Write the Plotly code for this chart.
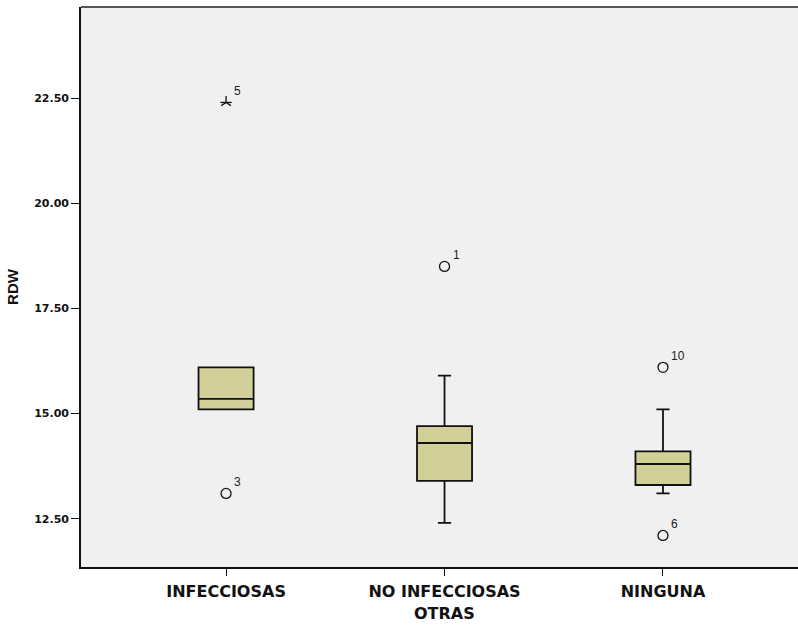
import plotly.graph_objects as go

# Groups on the x axis
categories = ["INFECCIOSAS", "NO INFECCIOSAS", "NINGUNA"]

# Box summaries of RDW per group
q1 = [15.10, 13.40, 13.30]
median = [15.35, 14.30, 13.80]
q3 = [16.10, 14.70, 14.10]
lower_whisker = [15.10, 12.40, 13.10]
upper_whisker = [16.10, 15.90, 15.10]

# Outlying cases (circles) and extreme cases (stars), with case numbers
outlier_groups = ["INFECCIOSAS", "NO INFECCIOSAS", "NINGUNA", "NINGUNA"]
outlier_values = [13.10, 18.50, 16.10, 12.10]
outlier_cases = ["3", "1", "10", "6"]

extreme_groups = ["INFECCIOSAS"]
extreme_values = [22.40]
extreme_cases = ["5"]

y_ticks = [12.5, 15.0, 17.5, 20.0, 22.5]

BOX_FILL = "#D3CF99"
PLOT_BG = "#F0F0F0"
FONT = "DejaVu Sans"
LABEL_FONT = "Liberation Sans"

fig = go.Figure()

for i, cat in enumerate(categories):
    fig.add_trace(go.Box(
        x=[cat],
        q1=[q1[i]], median=[median[i]], q3=[q3[i]],
        lowerfence=[lower_whisker[i]], upperfence=[upper_whisker[i]],
        boxpoints=False,
        fillcolor=BOX_FILL,
        line=dict(color="#111111", width=1.8),
        width=0.252,
        whiskerwidth=0.24,
        showlegend=False,
        hoverinfo="skip",
    ))

# Outliers: open circles
fig.add_trace(go.Scatter(
    x=outlier_groups, y=outlier_values, mode="markers",
    marker=dict(symbol="circle-open", size=10, color="#111111",
                line=dict(width=1.3, color="#111111")),
    showlegend=False, hoverinfo="skip",
))

# Extremes: five-armed asterisk built from two line symbols
for sym in ["y-up-open", "line-ew-open"]:
    fig.add_trace(go.Scatter(
        x=extreme_groups, y=extreme_values, mode="markers",
        marker=dict(symbol=sym, size=8, color="#111111",
                    line=dict(width=1.3, color="#111111")),
        showlegend=False, hoverinfo="skip",
    ))

# Case number labels next to each point
for g, v, c in list(zip(outlier_groups, outlier_values, outlier_cases)) + \
        list(zip(extreme_groups, extreme_values, extreme_cases)):
    fig.add_annotation(
        x=g, y=v, text=c, showarrow=False,
        xanchor="left", yanchor="middle", xshift=6, yshift=11,
        font=dict(family=LABEL_FONT, size=12, color="#222222"),
    )

# Group axis title, centred under the middle group
fig.add_annotation(
    x="NO INFECCIOSAS", xref="x", y=0, yref="paper",
    text="<b>OTRAS</b>", showarrow=False,
    xanchor="center", yanchor="middle", yshift=-46,
    font=dict(family=FONT, size=16, color="#111111"),
)

# Top frame line of the plot area
fig.add_shape(type="line", xref="paper", yref="paper",
              x0=0, x1=1, y0=1, y1=1,
              line=dict(color="#555555", width=2))

fig.update_layout(
    width=798, height=625,
    margin=dict(l=81, r=0, t=7, b=58, autoexpand=False),
    paper_bgcolor="white",
    plot_bgcolor=PLOT_BG,
    font=dict(family=FONT, color="#111111"),
)

fig.update_xaxes(
    type="category",
    categoryorder="array", categoryarray=categories,
    range=[-0.664, 2.618],
    automargin=False,
    showgrid=False, zeroline=False,
    showline=True, linecolor="#111111", linewidth=2,
    ticks="outside", ticklen=7, tickwidth=1.2, tickcolor="#111111",
    ticklabelstandoff=2,
    tickfont=dict(family=FONT, size=16, color="#111111", weight="bold"),
)

fig.update_yaxes(
    range=[11.35, 24.67],
    tickvals=y_ticks, tickformat=".2f",
    automargin=False,
    showgrid=False, zeroline=False,
    showline=True, linecolor="#111111", linewidth=1.6,
    ticks="outside", ticklen=8, tickwidth=1.2, tickcolor="#111111",
    tickfont=dict(family=FONT, size=11, color="#111111", weight="bold"),
    title=dict(text="RDW", standoff=12,
               font=dict(family=LABEL_FONT, size=15, color="#111111", weight="bold")),
)

fig.write_html("out.html")
